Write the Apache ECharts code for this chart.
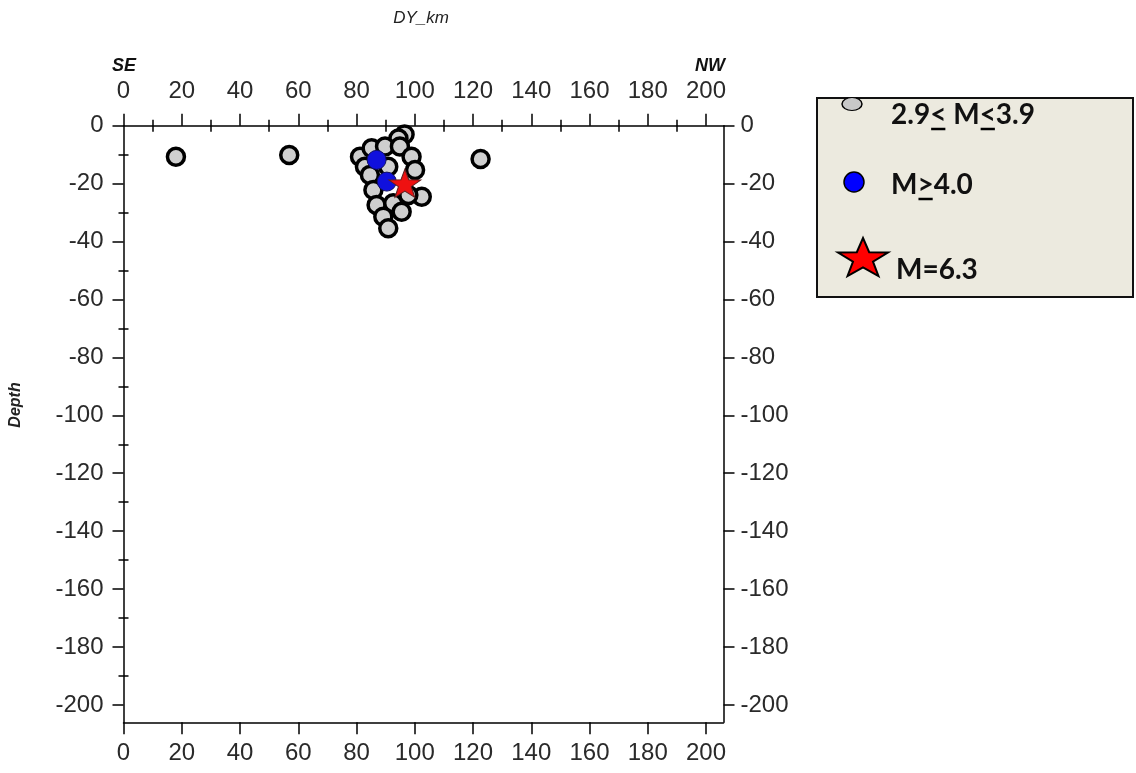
<!DOCTYPE html>
<html>
<head>
<meta charset="utf-8">
<script src="https://cdn.jsdelivr.net/npm/echarts@6/dist/echarts.min.js"></script>
<style>
html, body { margin: 0; padding: 0; background: #fff; }
#chart { width: 1136px; height: 773px; }
</style>
</head>
<body>
<div id="chart"></div>
<script>
// [DY_km, depth]
let smallQuakes = [
    [18, -10.7], [56.9, -10.1], [122.6, -11.5],
    [96.5, -3], [94.4, -4.4], [81.2, -10.7], [85.2, -7.8], [89.8, -7.2],
    [94.9, -7.2], [98.9, -10.7], [100.1, -15.3], [82.9, -14.2], [90.9, -14.2],
    [84.6, -17], [85.8, -22.2], [102.4, -24.5], [97.8, -23.9], [86.9, -27.4],
    [92.6, -26.8], [95.5, -29.7], [89.2, -31.4], [90.9, -35.4]
];
let bigQuakes = [[86.9, -11.8], [90.4, -19.3]];
let mainShock = [[96.6, -19.9]];

let xTicks = [0, 20, 40, 60, 80, 100, 120, 140, 160, 180, 200];
let xMinor = [10, 30, 50, 70, 90, 110, 130, 150, 170, 190];
let yTicks = [0, -20, -40, -60, -80, -100, -120, -140, -160, -180, -200];
let yMinor = [-10, -30, -50, -70, -90, -110, -130, -150, -170, -190];

let legendLabels = ['2.9< M<3.9', 'M>4.0', 'M=6.3'];

function starPoints(cx, cy, w, h) {
    let pts = [];
    for (let i = 0; i < 10; i++) {
        let a = (-90 + i * 36) * Math.PI / 180;
        let r = i % 2 === 0 ? 1 : 0.4;
        pts.push([Math.cos(a) * r, Math.sin(a) * r]);
    }
    // scale to box
    let sx = w / 1.902, sy = h / 1.809;
    return pts.map(p => [cx + p[0] * sx, cy + (p[1] + 0.0955) * sy]);
}
let starPath = 'path://' + starPoints(0, 0, 19.02, 18.09).map((p, i) => (i ? 'L' : 'M') + p[0].toFixed(2) + ',' + p[1].toFixed(2)).join(' ') + ' Z';

let dom = document.getElementById('chart');
let chart = echarts.init(dom);

const FONT = '"Liberation Sans", Arial, sans-serif';
const LFONT = 'Lato, "Open Sans", sans-serif';
let lineStyle = { color: '#000', width: 1.5 };
let labelStyle = { fontSize: 24, color: '#2a2a2a', fontFamily: FONT };

function mainX(pos) {
    return {
        type: 'value', position: pos, min: 0, max: 206,
        axisLine: { onZero: false, lineStyle: lineStyle },
        axisTick: { customValues: xTicks, length: 12, lineStyle: lineStyle },
        axisLabel: Object.assign({ customValues: xTicks, margin: pos === 'top' ? 22 : 19 }, labelStyle),
        splitLine: { show: false }
    };
}
function minorX(pos) {
    return {
        type: 'value', position: pos, min: 0, max: 206,
        axisLine: { show: false },
        axisTick: { customValues: xMinor, length: 6, lineStyle: lineStyle },
        axisLabel: { show: false },
        splitLine: { show: false }
    };
}
function mainY(pos) {
    return {
        type: 'value', position: pos, min: -206, max: 0,
        axisLine: { onZero: false, lineStyle: lineStyle },
        axisTick: { customValues: yTicks, length: 11, lineStyle: lineStyle },
        axisLabel: Object.assign({ customValues: yTicks, margin: pos === 'left' ? 20 : 17 }, labelStyle),
        splitLine: { show: false }
    };
}
function minorY(pos) {
    return {
        type: 'value', position: pos, min: -206, max: 0,
        axisLine: { show: false },
        axisTick: { customValues: yMinor, length: 5, lineStyle: lineStyle },
        axisLabel: { show: false },
        splitLine: { show: false }
    };
}

// legend text geometry
let ctx = document.createElement('canvas').getContext('2d');
ctx.font = 'bold 28px ' + LFONT;
function underline(text, idx, x0, y) {
    let a = x0 + ctx.measureText(text.slice(0, idx)).width;
    let b = a + ctx.measureText(text[idx]).width;
    return { type: 'line', shape: { x1: a + 1, y1: y, x2: b - 1, y2: y }, style: { stroke: '#000', lineWidth: 2.5 } };
}
let legendText = { fontSize: 28, fontWeight: 'bold', fontFamily: LFONT, fill: '#111', verticalAlign: 'middle' };
let cornerText = { fontSize: 18, fontStyle: 'italic', fontWeight: 'bold', color: '#111', fontFamily: FONT };

let option = {
    animation: false,
    backgroundColor: '#fff',
    title: [
        { text: 'SE', left: 107, top: 52, textStyle: cornerText },
        { text: 'NW', right: 406, top: 52, textStyle: cornerText },
        { text: 'DY_km', left: 416, top: 5, textAlign: 'center', textStyle: { fontSize: 17, fontStyle: 'italic', fontWeight: 'normal', color: '#222', fontFamily: FONT } }
    ],
    grid: { left: 123.5, right: 412.5, top: 125.7, bottom: 50.7 },
    xAxis: [mainX('bottom'), mainX('top'), minorX('bottom'), minorX('top')],
    yAxis: [mainY('left'), mainY('right'), minorY('left'), minorY('right')],
    series: [
        {
            name: legendLabels[0], type: 'scatter', data: smallQuakes,
            symbol: 'circle', symbolSize: 17,
            itemStyle: { color: '#cfcfcf', borderColor: '#000', borderWidth: 3.5, opacity: 1 }
        },
        {
            name: legendLabels[1], type: 'scatter', data: bigQuakes,
            symbol: 'circle', symbolSize: 19,
            itemStyle: { color: '#1010dd', borderColor: '#101060', borderWidth: 1, opacity: 1 }
        },
        {
            name: legendLabels[2], type: 'scatter', data: mainShock,
            symbol: starPath, symbolSize: [32, 28],
            itemStyle: { color: '#ee1111', borderColor: '#602020', borderWidth: 1, opacity: 1 }
        }
    ],
    graphic: [
        {
            type: 'text', x: 16, y: 405, rotation: Math.PI / 2,
            style: { text: 'Depth', fontSize: 16, fontStyle: 'italic', fontWeight: 'bold', fill: '#222', fontFamily: FONT, align: 'center', verticalAlign: 'middle' }
        },
        {
            type: 'group',
            children: [
                { type: 'rect', shape: { x: 817, y: 98, width: 316, height: 199 }, style: { fill: '#ECEADF', stroke: '#111', lineWidth: 2 } },
                { type: 'circle', shape: { cx: 0, cy: 0, r: 10 }, x: 852, y: 104, scaleY: 0.65, style: { fill: '#c8c8c8', stroke: '#000', lineWidth: 1.5 } },
                { type: 'circle', shape: { cx: 854, cy: 182, r: 10 }, style: { fill: '#0000ff', stroke: '#000', lineWidth: 1.5 } },
                { type: 'polygon', shape: { points: starPoints(863, 257, 50, 38) }, style: { fill: '#ff0000', stroke: '#000', lineWidth: 2 } },
                { type: 'text', x: 891, y: 115, style: Object.assign({ text: legendLabels[0] }, legendText) },
                { type: 'text', x: 891, y: 185, style: Object.assign({ text: legendLabels[1] }, legendText) },
                { type: 'text', x: 896, y: 270, style: Object.assign({ text: legendLabels[2] }, legendText) },
                underline(legendLabels[0], 3, 891, 129),
                underline(legendLabels[0], 6, 891, 129),
                underline(legendLabels[1], 1, 891, 199)
            ]
        }
    ]
};

chart.setOption(option);
</script>
</body>
</html>
